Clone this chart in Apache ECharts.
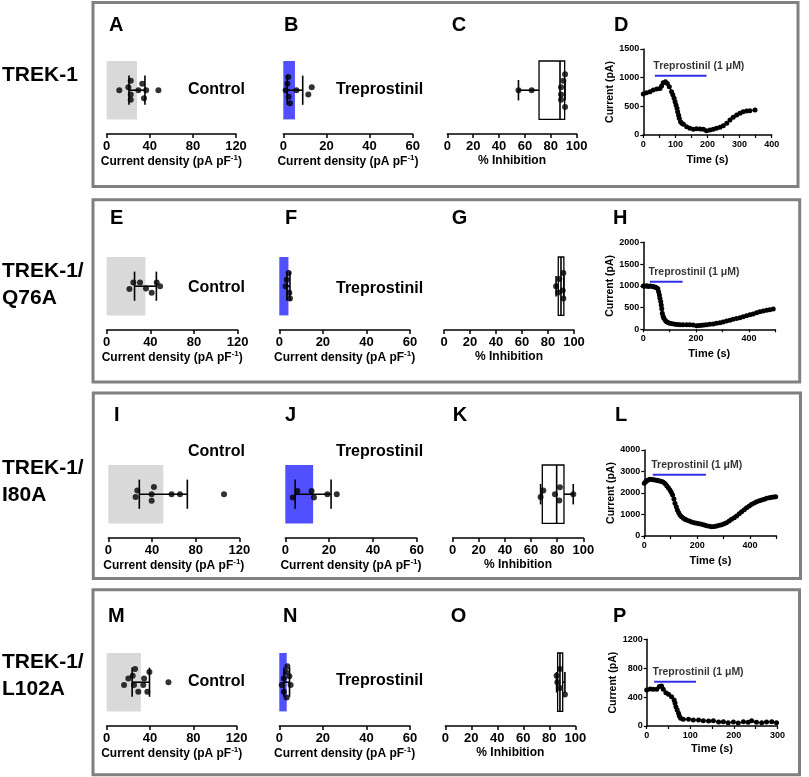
<!DOCTYPE html>
<html>
<head>
<meta charset="utf-8">
<title>TREK-1 treprostinil</title>
<script src="https://cdn.jsdelivr.net/npm/echarts@6.0.0/dist/echarts.min.js"></script>
<style>
html,body{margin:0;padding:0;background:#fff;}
#chart{width:809px;height:777px;}
</style>
</head>
<body>
<div id="chart"></div>
<script>
// ---------------- text ----------------
const rowLabels = ['TREK-1', 'TREK-1/\nQ76A', 'TREK-1/\nI80A', 'TREK-1/\nL102A'];
const panelLetters = [['A','B','C','D'],['E','F','G','H'],['I','J','K','L'],['M','N','O','P']];
const groupLabels = ['Control', 'Treprostinil'];
const drugLabel = 'Treprostinil (1 \u03bcM)';

// ---------------- tick labels ----------------
const controlTicks = [0, 40, 80, 120];
const trepTicks = [0, 20, 40, 60];
const inhibTicks = [0, 20, 40, 60, 80, 100];
const timeTicks = [[0,100,200,300,400],[0,200,400],[0,200,400],[0,100,200,300]];
const timeMax = [400, 500, 500, 300];
const timeMinorStep = [50, 100, 100, 50];
const currentTicks = [[0,500,1000,1500],[0,500,1000,1500,2000],[0,1000,2000,3000,4000],[0,400,800,1200]];

// ---------------- control current density (pA/pF) ----------------
const ctrl1 = [11.7, 20.1, 22.3, 22.3, 22.3, 29.4, 33.0, 34.6, 36.6, 48.0];
const ctrl1Jit = [0, 0.4, 1.3, -0.6, -1.3, 0, 0.9, -1.1, 0, 0];
const ctrl2 = [20.8, 24.4, 30.5, 36.0, 41.2, 45.8, 48.9];
const ctrl2Jit = [-0.4, 0.5, 0.5, -0.3, -0.9, 0.5, 0];
const ctrl3 = [25.0, 26.6, 39.7, 39.7, 41.8, 58.0, 65.6, 106.0];
const ctrl3Jit = [-0.4, 0.5, 0, -0.9, 1.0, 0, 0, 0];
const ctrl4 = [16.0, 20.0, 24.0, 26.2, 25.2, 29.2, 34.5, 33.8, 37.5, 39.4, 57.0];
const ctrl4Jit = [-0.4, 0.5, 0.9, 1.8, -0.4, -1.3, 0.5, -0.4, -1.3, 1.4, 0];
const ctrlMean = [28.1, 35.5, 50.4, 31.5];
const ctrlSD = [7.4, 10.0, 22.0, 8.0];

// ---------------- treprostinil current density (pA/pF) ----------------
const trep1 = [1.1, 1.9, 2.3, 2.5, 3.1, 6.1, 11.6, 13.2];
const trep1Jit = [0, 0.9, 1.8, -0.9, -1.8, 0, -0.6, 0.4];
const trep2 = [2.9, 3.4, 4.3, 4.6, 4.9];
const trep2Jit = [0, 0.9, 1.8, -0.9, -1.7];
const trep3 = [3.4, 5.5, 12.0, 13.1, 19.2, 23.5];
const trep3Jit = [-0.45, 0.45, 0.45, -0.45, 0, 0];
const trep4 = [1.1, 2.1, 2.1, 3.1, 3.4, 3.7, 4.6, 5.2];
const trep4Jit = [-0.4, 0.5, -1.3, 1.4, -2.1, 2.2, 0.8, -0.4];
const trepMean = [5.4, 4.2, 12.7, 3.4];
const trepSD = [3.6, 0.7, 8.2, 1.3];

// ---------------- % inhibition ----------------
const inhib1 = [55.0, 65.2, 87.9, 87.9, 87.9, 89.7, 91.0, 91.0];
const inhib1Jit = [0, 0, 0.4, -0.6, -1.3, 1.3, 2.2, -2.3];
const inhib2 = [86.2, 87.9, 88.7, 91.3, 91.8, 91.8];
const inhib2Jit = [0, -0.85, 1.0, -0.6, 1.8, -1.7];
const inhib3 = [67.3, 69.4, 78.3, 81.6, 82.1, 92.3];
const inhib3Jit = [-0.4, 0.5, 0, -0.85, 0.95, 0];
const inhib4 = [85.6, 86.2, 88.2, 88.2, 92.0];
const inhib4Jit = [0.9, 0, 1.8, -0.8, -1.7];
// [min, Q1, median, Q3, max]
const inhibBox = [[55, 70.9, 87.1, 90.7, 91], [86.2, 87.9, 90.0, 92.2, 92.2], [67.3, 68.6, 79.6, 85.2, 92.3], [85.6, 86.4, 88.2, 90.3, 92]];

// ---------------- time courses ----------------
const timeD = [0,10,21,31,42,52,57,62,69,75,81,88,92,96,99,102,105,107,110,112,116,120,125,135,145,156,166,177,187,197,208,218,228,239,249,260,270,280,291,301,311,322,332,348];
const currD = [715,738,755,784,802,813,854,912,930,900,842,755,700,639,580,523,465,407,345,290,232,205,186,145,116,99,110,105,99,76,87,99,116,134,163,203,261,308,349,378,407,418,424,436];
const timeH = [0,6,13,19,25,32,38,44,50,55,58,61,63,66,68,70,72,75,78,83,88,95,101,110,120,130,139,150,164,176,189,202,212,221,230,240,252,265,277,290,302,315,328,340,353,366,378,391,404,416,429,441,454,467,479,492];
const currH = [996,990,1003,985,996,990,980,975,957,930,866,790,712,640,559,470,368,300,253,210,176,150,138,125,115,110,107,105,107,104,100,84,90,92,98,107,115,123,138,153,170,192,210,230,250,268,290,314,335,352,380,406,420,437,450,467];
const timeL = [0,5,9,15,21,27,34,40,47,53,59,66,72,79,85,91,97,102,107,112,116,121,125,130,135,141,148,154,160,170,179,189,198,208,217,227,236,246,255,265,274,284,293,302,311,321,330,340,349,359,368,378,387,397,406,416,425,435,444,454,463,473,482,490,497];
const currL = [2449,2520,2573,2610,2635,2630,2620,2605,2589,2570,2558,2530,2496,2430,2341,2250,2139,2030,1907,1720,1519,1360,1209,1080,977,890,822,780,744,695,651,620,589,565,543,510,481,455,434,440,465,495,527,570,620,695,775,850,930,1030,1132,1225,1318,1400,1473,1540,1597,1640,1674,1715,1752,1775,1798,1815,1829];
const timeP = [0,8,15,23,29,34,38,44,50,57,63,65,67,70,73,75,78,84,96,107,119,130,142,153,165,176,187,199,210,222,233,241,252,264,275,287,298];
const currP = [498,512,508,508,545,554,508,461,438,406,360,320,268,220,175,140,106,92,92,83,83,74,69,74,55,60,46,55,42,60,51,74,51,46,55,60,46];
const drugOn = [36, 25, 32, 17];
const drugOff = [197, 149, 233, 113];
const drugLevel = [1034, 1095, 2852, 614];

// ---------------- styles / layout ----------------
const FONT = '"Liberation Sans", Arial, Helvetica, sans-serif';
const BLACK = '#000';
const GREY_BAR = '#d9d9d9';
const BLUE_BAR = '#5050ff';
const BLUE_LINE = '#3030e6';
const FRAME = '#808080';

const frames = [[93, 2.5, 705, 184], [93, 199.7, 706.7, 182.3], [93.3, 393, 707.2, 185.5], [93, 589.7, 706.5, 185]];
const rowLabelY = [75, 285, 481.5, 675.5];
const letterX = [[109,284,451.7,614],[110,285,451.7,613],[114,285,452.7,615],[108,283,450.7,613]];
const letterY = [25, 218, 415, 616];
const stripTop = [61, 257, 465, 653];
const stripH = 73;
const ctrlGrid = [[106.7,129.3],[106.7,131],[108.3,131],[106.7,130]];
const trepGrid = [[283.3,129.4],[279.3,130.7],[285.3,131.4],[279.3,130.7]];
const inhibGrid = [[447.3,129.4],[444,130],[452.7,130.6],[445.3,130]];
const traceGrid = [[643.3,49,128.4,86],[643.3,242.3,132,87],[644.3,450,132.2,86],[646.7,639.3,130.7,86.7]];
const traceYNameGap = [24, 26, 25, 25];
const traceXNameGap = [19, 19, 19, 17];
const groupTextX = [188, 336];
const groupTextY = [[90,90],[287.5,289],[452,452],[682,681]];

const ctrlData = [[ctrl1,ctrl1Jit],[ctrl2,ctrl2Jit],[ctrl3,ctrl3Jit],[ctrl4,ctrl4Jit]];
const trepData = [[trep1,trep1Jit],[trep2,trep2Jit],[trep3,trep3Jit],[trep4,trep4Jit]];
const inhibData = [[inhib1,inhib1Jit],[inhib2,inhib2Jit],[inhib3,inhib3Jit],[inhib4,inhib4Jit]];
const traceData = [[timeD,currD],[timeH,currH],[timeL,currL],[timeP,currP]];

// ---------------- helpers ----------------
const grids = [], xAxes = [], yAxes = [], series = [], graphics = [];

function lineEl(x1, y1, x2, y2, w) {
  return {type: 'line', shape: {x1, y1, x2, y2}, style: {stroke: BLACK, lineWidth: w}};
}
function barItem(color) {
  return function (params, api) {
    const m = api.value(0);
    const a = api.coord([0, 4]), b = api.coord([m, -4]);
    return {type: 'rect', shape: {x: a[0], y: a[1], width: b[0] - a[0], height: b[1] - a[1]}, style: {fill: color}};
  };
}
function errItem(params, api) {
  const m = api.value(0), e = api.value(1);
  const L = api.coord([m - e, 0]), R = api.coord([m + e, 0]);
  const t = api.coord([m, 2])[1], b = api.coord([m, -2])[1];
  return {type: 'group', children: [
    lineEl(L[0], L[1], R[0], R[1], 1.6), lineEl(L[0], t, L[0], b, 1.6), lineEl(R[0], t, R[0], b, 1.6)
  ]};
}
function boxItem(params, api) {
  const x = [0, 1, 2, 3, 4].map(i => api.coord([api.value(i), 0])[0]);
  const top = api.coord([0, 4])[1], bot = api.coord([0, -4])[1], mid = api.coord([0, 0])[1];
  const ct = api.coord([0, 1.4])[1], cb = api.coord([0, -1.4])[1];
  return {type: 'group', children: [
    {type: 'rect', shape: {x: x[1], y: top, width: x[3] - x[1], height: bot - top}, style: {fill: '#fff', stroke: BLACK, lineWidth: 1.3}},
    lineEl(x[2], top, x[2], bot, 1.6),
    lineEl(x[0], mid, x[1], mid, 1.6), lineEl(x[3], mid, x[4], mid, 1.6),
    lineEl(x[0], ct, x[0], cb, 1.6), lineEl(x[4], ct, x[4], cb, 1.6)
  ]};
}

const axisLineStyle = {show: true, onZero: false, lineStyle: {color: BLACK, width: 1.5}};
const axisTickStyle = {show: true, length: 4, lineStyle: {color: BLACK, width: 1.5}};
const densityName = '{n|Current density (pA pF}{s|-1}{n|)}';
const densityRich = {
  n: {fontSize: 12, fontWeight: 'bold', fontFamily: FONT, color: BLACK, lineHeight: 15},
  s: {fontSize: 8, fontWeight: 'bold', fontFamily: FONT, color: BLACK, lineHeight: 8, verticalAlign: 'top'}
};
const plain = v => String(v);

function stripPanel(left, width, top, ticks, name, rich) {
  grids.push({left: left, top: top, width: width, height: stripH});
  const gi = grids.length - 1;
  xAxes.push({
    gridIndex: gi, type: 'value', min: ticks[0], max: ticks[ticks.length - 1], interval: ticks[1] - ticks[0],
    axisLine: axisLineStyle, axisTick: axisTickStyle, splitLine: {show: false},
    axisLabel: {fontSize: 13, fontWeight: 'bold', fontFamily: FONT, color: BLACK, margin: 6, formatter: plain},
    name: name, nameLocation: 'middle', nameGap: 20,
    nameTextStyle: {fontSize: 12, fontWeight: 'bold', fontFamily: FONT, color: BLACK, rich: rich}
  });
  yAxes.push({gridIndex: gi, type: 'value', min: -6, max: 4, show: false});
  return gi;
}
function dots(gi, xs, jit) {
  series.push({
    type: 'scatter', xAxisIndex: gi, yAxisIndex: gi, z: 5, silent: true,
    data: xs.map((v, i) => [v, jit[i]]), symbolSize: 6, itemStyle: {color: BLACK}
  });
}

// ---------------- build panels ----------------
for (let r = 0; r < 4; r++) {
  // control
  let gi = stripPanel(ctrlGrid[r][0], ctrlGrid[r][1], stripTop[r], controlTicks, densityName, densityRich);
  series.push({type: 'custom', xAxisIndex: gi, yAxisIndex: gi, z: 1, silent: true, renderItem: barItem(GREY_BAR), data: [[ctrlMean[r], 0]]});
  series.push({type: 'custom', xAxisIndex: gi, yAxisIndex: gi, z: 3, silent: true, renderItem: errItem, data: [[ctrlMean[r], ctrlSD[r]]]});
  dots(gi, ctrlData[r][0], ctrlData[r][1]);

  // treprostinil
  gi = stripPanel(trepGrid[r][0], trepGrid[r][1], stripTop[r], trepTicks, densityName, densityRich);
  series.push({type: 'custom', xAxisIndex: gi, yAxisIndex: gi, z: 1, silent: true, renderItem: barItem(BLUE_BAR), data: [[trepMean[r], 0]]});
  series.push({type: 'custom', xAxisIndex: gi, yAxisIndex: gi, z: 3, silent: true, renderItem: errItem, data: [[trepMean[r], trepSD[r]]]});
  dots(gi, trepData[r][0], trepData[r][1]);

  // % inhibition
  gi = stripPanel(inhibGrid[r][0], inhibGrid[r][1], stripTop[r], inhibTicks, '% Inhibition', {});
  xAxes[gi].nameGap = 21;
  series.push({type: 'custom', xAxisIndex: gi, yAxisIndex: gi, z: 2, silent: true, renderItem: boxItem, data: [inhibBox[r]]});
  dots(gi, inhibData[r][0], inhibData[r][1]);

  // time course
  const tg = traceGrid[r];
  grids.push({left: tg[0], top: tg[1], width: tg[2], height: tg[3]});
  gi = grids.length - 1;
  const tt = timeTicks[r], ct = currentTicks[r];
  xAxes.push({
    gridIndex: gi, type: 'value', min: 0, max: timeMax[r], interval: timeMinorStep[r],
    axisLine: axisLineStyle, axisTick: {show: true, length: 3, lineStyle: {color: BLACK, width: 1.2}}, splitLine: {show: false},
    axisLabel: {fontSize: 9, fontWeight: 'bold', fontFamily: FONT, color: BLACK, margin: 5,
      formatter: v => (tt.indexOf(v) >= 0 ? String(v) : '')},
    name: 'Time (s)', nameLocation: 'middle', nameGap: traceXNameGap[r],
    nameTextStyle: {fontSize: 11, fontWeight: 'bold', fontFamily: FONT, color: BLACK}
  });
  yAxes.push({
    gridIndex: gi, type: 'value', min: ct[0], max: ct[ct.length - 1], interval: ct[1] - ct[0],
    axisLine: axisLineStyle, axisTick: {show: true, length: 3, lineStyle: {color: BLACK, width: 1.2}}, splitLine: {show: false},
    axisLabel: {fontSize: 9, fontWeight: 'bold', fontFamily: FONT, color: BLACK, margin: 4, formatter: plain},
    name: 'Current (pA)', nameLocation: 'middle', nameRotate: 90, nameGap: traceYNameGap[r],
    nameTextStyle: {fontSize: 10.5, fontWeight: 'bold', fontFamily: FONT, color: BLACK}
  });
  const td = traceData[r];
  series.push({
    type: 'line', xAxisIndex: gi, yAxisIndex: gi, silent: true, z: 3,
    data: td[0].map((t, i) => [t, td[1][i]]),
    symbol: 'circle', symbolSize: 5, showSymbol: true,
    itemStyle: {color: BLACK}, lineStyle: {color: BLACK, width: 1.2}
  });
  series.push({
    type: 'line', xAxisIndex: gi, yAxisIndex: gi, silent: true, z: 4,
    data: [[drugOn[r], drugLevel[r]], [drugOff[r], drugLevel[r]]],
    symbol: 'none', lineStyle: {color: BLUE_LINE, width: 2}
  });
  series.push({
    type: 'scatter', xAxisIndex: gi, yAxisIndex: gi, silent: true, z: 4,
    data: [[drugOn[r], drugLevel[r]]], symbolSize: 1, itemStyle: {color: 'rgba(0,0,0,0)'},
    label: {show: true, position: 'right', distance: 0, offset: [-2, -10], formatter: drugLabel,
      fontSize: 10.5, fontWeight: 'bold', fontFamily: FONT, color: BLACK}
  });
}

// ---------------- frames and texts ----------------
function textEl(x, y, text, size, extra) {
  return {
    type: 'text', x: x, y: y, silent: true,
    style: Object.assign({text: text, fontSize: size, fontWeight: 'bold', fontFamily: FONT, fill: BLACK,
      align: 'left', verticalAlign: 'middle', textAlign: 'left', textVerticalAlign: 'middle'}, extra || {})
  };
}
for (let r = 0; r < 4; r++) {
  const f = frames[r];
  graphics.push({type: 'rect', silent: true, shape: {x: f[0], y: f[1], width: f[2], height: f[3]},
    style: {fill: 'none', stroke: FRAME, lineWidth: 3}});
  graphics.push(textEl(2, rowLabelY[r], rowLabels[r], 21, {lineHeight: 27}));
  for (let c = 0; c < 4; c++) graphics.push(textEl(letterX[r][c], letterY[r], panelLetters[r][c], 20));
  graphics.push(textEl(groupTextX[0], groupTextY[r][0], groupLabels[0], 16));
  graphics.push(textEl(groupTextX[1], groupTextY[r][1], groupLabels[1], 16));
}

const chart = echarts.init(document.getElementById('chart'), null, {renderer: 'canvas'});
chart.setOption({
  backgroundColor: '#fff',
  animation: false,
  grid: grids,
  xAxis: xAxes,
  yAxis: yAxes,
  series: series,
  graphic: {elements: graphics}
});
</script>
</body>
</html>
